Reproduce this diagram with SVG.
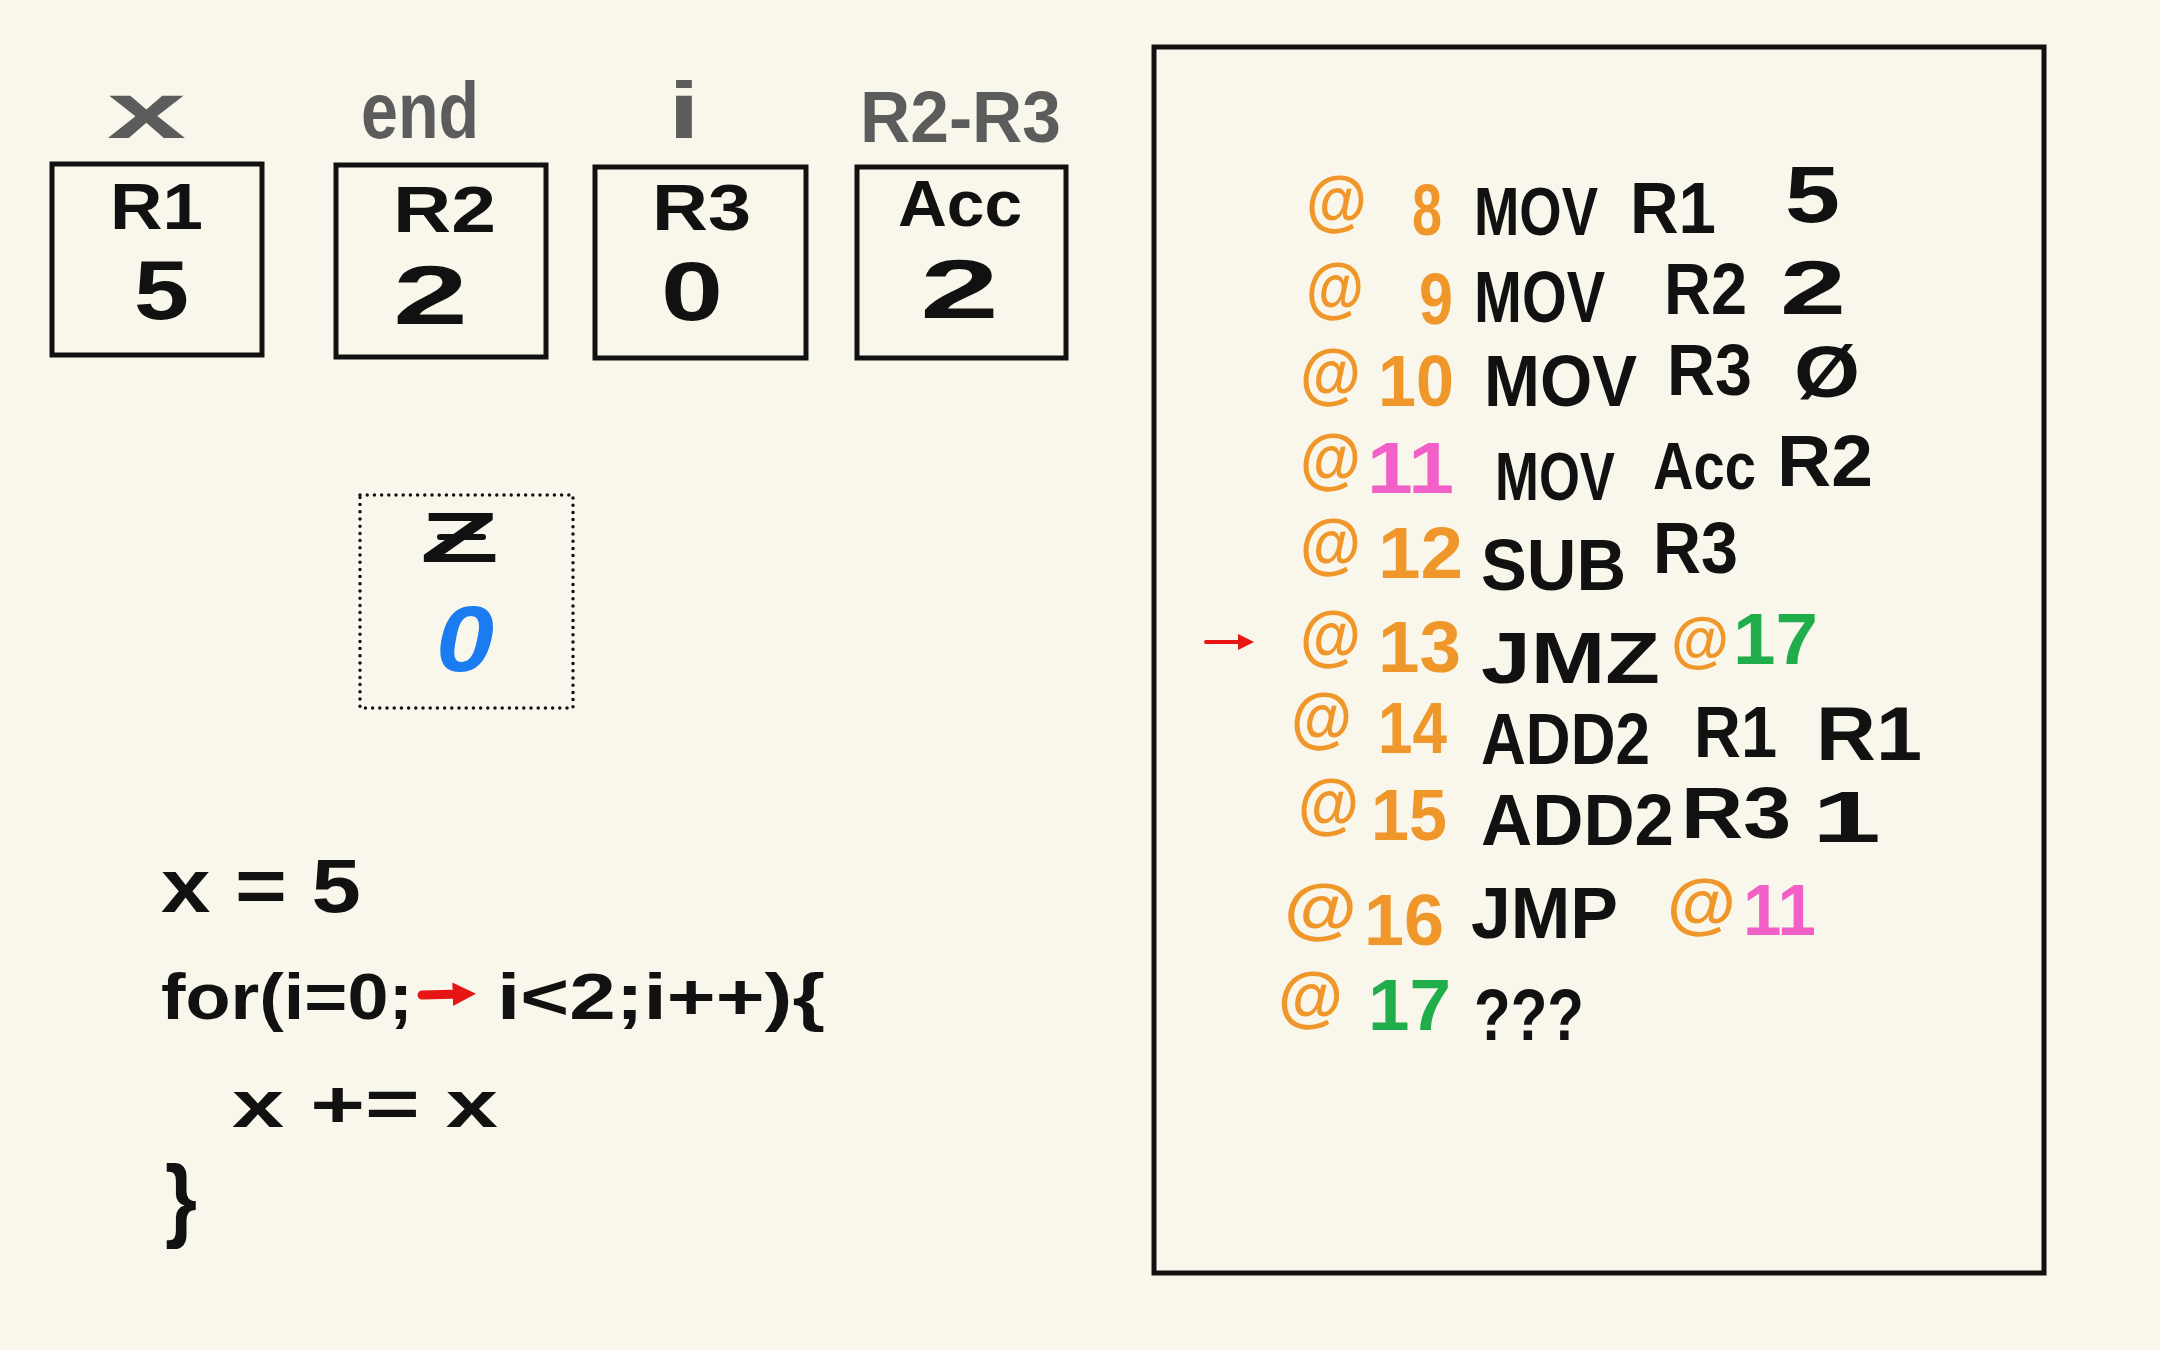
<svg xmlns="http://www.w3.org/2000/svg" width="2160" height="1350" viewBox="0 0 2160 1350">
<defs>
<style>
.t{font-family:"Liberation Sans",Arial,sans-serif;font-weight:bold}
.k{fill:#111}
.o{fill:#f0972b}
.p{fill:#f25fc6}
.g{fill:#1fae4a}
.gr{fill:#5c5c5c}
.b{fill:#1a7cf0}
.at{font-size:66px}
.pl{font-size:72px}
.box{fill:none;stroke:#111;stroke-width:5}
.arrow{fill:none;stroke:#e81515;stroke-linecap:round}
</style>
<marker id="ah" viewBox="0 0 10 10" refX="5" refY="5" markerWidth="4" markerHeight="4" orient="auto" markerUnits="strokeWidth">
<path d="M0,0 L10,5 L0,10 Z" fill="#e81515"/>
</marker>
<marker id="ah2" viewBox="0 0 10 10" refX="4" refY="5" markerWidth="2.6" markerHeight="3" orient="auto" markerUnits="strokeWidth">
<path d="M0,0 L10,5 L0,10 Z" fill="#e81515"/>
</marker>
</defs>
<rect width="2160" height="1350" fill="#f9f7ec"/>

<g id="reg-r1">
<text class="t gr" x="107" y="138" font-size="80" textLength="79" lengthAdjust="spacingAndGlyphs">x</text>
<rect class="box" x="52" y="164" width="210" height="191"/>
<text class="t k" x="110" y="229" font-size="64" textLength="93" lengthAdjust="spacingAndGlyphs">R1</text>
<text class="t k" x="134" y="319" font-size="84" textLength="55" lengthAdjust="spacingAndGlyphs">5</text>
</g>
<g id="reg-r2">
<text class="t gr" x="361" y="138" font-size="80" textLength="118" lengthAdjust="spacingAndGlyphs">end</text>
<rect class="box" x="336" y="165" width="210" height="192"/>
<text class="t k" x="393" y="232" font-size="64" textLength="103" lengthAdjust="spacingAndGlyphs">R2</text>
<text class="t k" x="393" y="324" font-size="84" textLength="75" lengthAdjust="spacingAndGlyphs">2</text>
</g>
<g id="reg-r3">
<text class="t gr" x="668" y="138" font-size="80" textLength="32" lengthAdjust="spacingAndGlyphs">i</text>
<rect class="box" x="595" y="167" width="211" height="191"/>
<text class="t k" x="652" y="230" font-size="64" textLength="99" lengthAdjust="spacingAndGlyphs">R3</text>
<text class="t k" x="661" y="320" font-size="84" textLength="62" lengthAdjust="spacingAndGlyphs">0</text>
</g>
<g id="reg-acc">
<text class="t gr" x="860" y="142" font-size="72" textLength="201" lengthAdjust="spacingAndGlyphs">R2-R3</text>
<rect class="box" x="857" y="167" width="209" height="191"/>
<text class="t k" x="898" y="226" font-size="64" textLength="124" lengthAdjust="spacingAndGlyphs">Acc</text>
<text class="t k" x="920" y="318" font-size="84" textLength="79" lengthAdjust="spacingAndGlyphs">2</text>
</g>

<g id="flag-z">
<rect x="360" y="495" width="213" height="213" fill="none" stroke="#111" stroke-width="3.5" stroke-dasharray="0 7.2" stroke-linecap="round"/>
<text class="t k" x="420" y="562" font-size="70" textLength="79" lengthAdjust="spacingAndGlyphs">Z</text>
<line x1="440" y1="537" x2="483" y2="537" stroke="#111" stroke-width="6" stroke-linecap="round"/>
<text class="t b" x="436" y="671" font-size="92" font-style="italic" textLength="58" lengthAdjust="spacingAndGlyphs">0</text>
</g>

<g id="source-code">
<text class="t k" x="161" y="912" font-size="76" textLength="200" lengthAdjust="spacingAndGlyphs">x = 5</text>
<text class="t k" x="161" y="1019" font-size="64" textLength="252" lengthAdjust="spacingAndGlyphs">for(i=0;</text>
<text class="t k" x="497" y="1019" font-size="64" textLength="328" lengthAdjust="spacingAndGlyphs">i&lt;2;i++){</text>
<text class="t k" x="232" y="1127" font-size="66" textLength="266" lengthAdjust="spacingAndGlyphs">x += x</text>
<text class="t k" x="165" y="1230" font-size="92" textLength="32" lengthAdjust="spacingAndGlyphs">}</text>
</g>

<g id="program">
<rect class="box" x="1154" y="47" width="890" height="1226"/>
<g id="line-8">
<text class="t o at" x="1306" y="223" textLength="61" lengthAdjust="spacingAndGlyphs">@</text>
<text class="t o pl" x="1412" y="235" textLength="30" lengthAdjust="spacingAndGlyphs">8</text>
<text class="t k" x="1474" y="235" font-size="68" textLength="124" lengthAdjust="spacingAndGlyphs">MOV</text>
<text class="t k pl" x="1630" y="233" textLength="86" lengthAdjust="spacingAndGlyphs">R1</text>
<text class="t k" x="1785" y="222" font-size="80" textLength="55" lengthAdjust="spacingAndGlyphs">5</text>
</g>
<g id="line-9">
<text class="t o at" x="1306" y="310" textLength="58" lengthAdjust="spacingAndGlyphs">@</text>
<text class="t o pl" x="1419" y="324" textLength="34" lengthAdjust="spacingAndGlyphs">9</text>
<text class="t k pl" x="1474" y="322" textLength="131" lengthAdjust="spacingAndGlyphs">MOV</text>
<text class="t k pl" x="1664" y="314" textLength="83" lengthAdjust="spacingAndGlyphs">R2</text>
<text class="t k" x="1780" y="314" font-size="76" textLength="66" lengthAdjust="spacingAndGlyphs">2</text>
</g>
<g id="line-10">
<text class="t o at" x="1300" y="396" textLength="61" lengthAdjust="spacingAndGlyphs">@</text>
<text class="t o pl" x="1378" y="406" textLength="76" lengthAdjust="spacingAndGlyphs">10</text>
<text class="t k pl" x="1484" y="406" textLength="153" lengthAdjust="spacingAndGlyphs">MOV</text>
<text class="t k pl" x="1667" y="395" textLength="85" lengthAdjust="spacingAndGlyphs">R3</text>
<text class="t k pl" x="1794" y="397" textLength="66" lengthAdjust="spacingAndGlyphs">Ø</text>
</g>
<g id="line-11">
<text class="t o at" x="1300" y="481" textLength="61" lengthAdjust="spacingAndGlyphs">@</text>
<text class="t p pl" x="1367" y="493" textLength="87" lengthAdjust="spacingAndGlyphs">11</text>
<text class="t k" x="1495" y="500" font-size="68" textLength="120" lengthAdjust="spacingAndGlyphs">MOV</text>
<text class="t k" x="1653" y="489" font-size="66" textLength="103" lengthAdjust="spacingAndGlyphs">Acc</text>
<text class="t k pl" x="1777" y="486" textLength="96" lengthAdjust="spacingAndGlyphs">R2</text>
</g>
<g id="line-12">
<text class="t o at" x="1300" y="566" textLength="61" lengthAdjust="spacingAndGlyphs">@</text>
<text class="t o pl" x="1378" y="578" textLength="85" lengthAdjust="spacingAndGlyphs">12</text>
<text class="t k pl" x="1481" y="590" textLength="145" lengthAdjust="spacingAndGlyphs">SUB</text>
<text class="t k pl" x="1653" y="573" textLength="85" lengthAdjust="spacingAndGlyphs">R3</text>
</g>
<g id="line-13">
<text class="t o at" x="1300" y="658" textLength="61" lengthAdjust="spacingAndGlyphs">@</text>
<text class="t o pl" x="1378" y="672" textLength="83" lengthAdjust="spacingAndGlyphs">13</text>
<text class="t k pl" x="1481" y="683" textLength="179" lengthAdjust="spacingAndGlyphs">JMZ</text>
<text class="t o" x="1671" y="660" font-size="62" textLength="58" lengthAdjust="spacingAndGlyphs">@</text>
<text class="t g pl" x="1733" y="664" textLength="85" lengthAdjust="spacingAndGlyphs">17</text>
</g>
<g id="line-14">
<text class="t o at" x="1291" y="740" textLength="61" lengthAdjust="spacingAndGlyphs">@</text>
<text class="t o pl" x="1378" y="753" textLength="69" lengthAdjust="spacingAndGlyphs">14</text>
<text class="t k pl" x="1481" y="764" textLength="169" lengthAdjust="spacingAndGlyphs">ADD2</text>
<text class="t k pl" x="1694" y="757" textLength="83" lengthAdjust="spacingAndGlyphs">R1</text>
<text class="t k" x="1816" y="760" font-size="76" textLength="106" lengthAdjust="spacingAndGlyphs">R1</text>
</g>
<g id="line-15">
<text class="t o at" x="1298" y="826" textLength="61" lengthAdjust="spacingAndGlyphs">@</text>
<text class="t o pl" x="1371" y="840" textLength="76" lengthAdjust="spacingAndGlyphs">15</text>
<text class="t k pl" x="1481" y="845" textLength="193" lengthAdjust="spacingAndGlyphs">ADD2</text>
<text class="t k pl" x="1681" y="838" textLength="110" lengthAdjust="spacingAndGlyphs">R3</text>
<text class="t k pl" x="1812" y="842" textLength="69" lengthAdjust="spacingAndGlyphs">1</text>
</g>
<g id="line-16">
<text class="t o at" x="1284" y="931" textLength="73" lengthAdjust="spacingAndGlyphs">@</text>
<text class="t o pl" x="1364" y="945" textLength="80" lengthAdjust="spacingAndGlyphs">16</text>
<text class="t k pl" x="1471" y="938" textLength="147" lengthAdjust="spacingAndGlyphs">JMP</text>
<text class="t o at" x="1667" y="926" textLength="69" lengthAdjust="spacingAndGlyphs">@</text>
<text class="t p pl" x="1743" y="935" textLength="73" lengthAdjust="spacingAndGlyphs">11</text>
</g>
<g id="line-17">
<text class="t o at" x="1278" y="1019" textLength="65" lengthAdjust="spacingAndGlyphs">@</text>
<text class="t g pl" x="1368" y="1030" textLength="83" lengthAdjust="spacingAndGlyphs">17</text>
<text class="t k pl" x="1474" y="1040" textLength="110" lengthAdjust="spacingAndGlyphs">???</text>
</g>
</g>

<g id="connectors">
<line class="arrow" x1="1206" y1="642" x2="1246" y2="642" stroke-width="4" marker-end="url(#ah)"/>
<line class="arrow" x1="422" y1="995" x2="462" y2="994" stroke-width="9" marker-end="url(#ah2)"/>
</g>
</svg>
